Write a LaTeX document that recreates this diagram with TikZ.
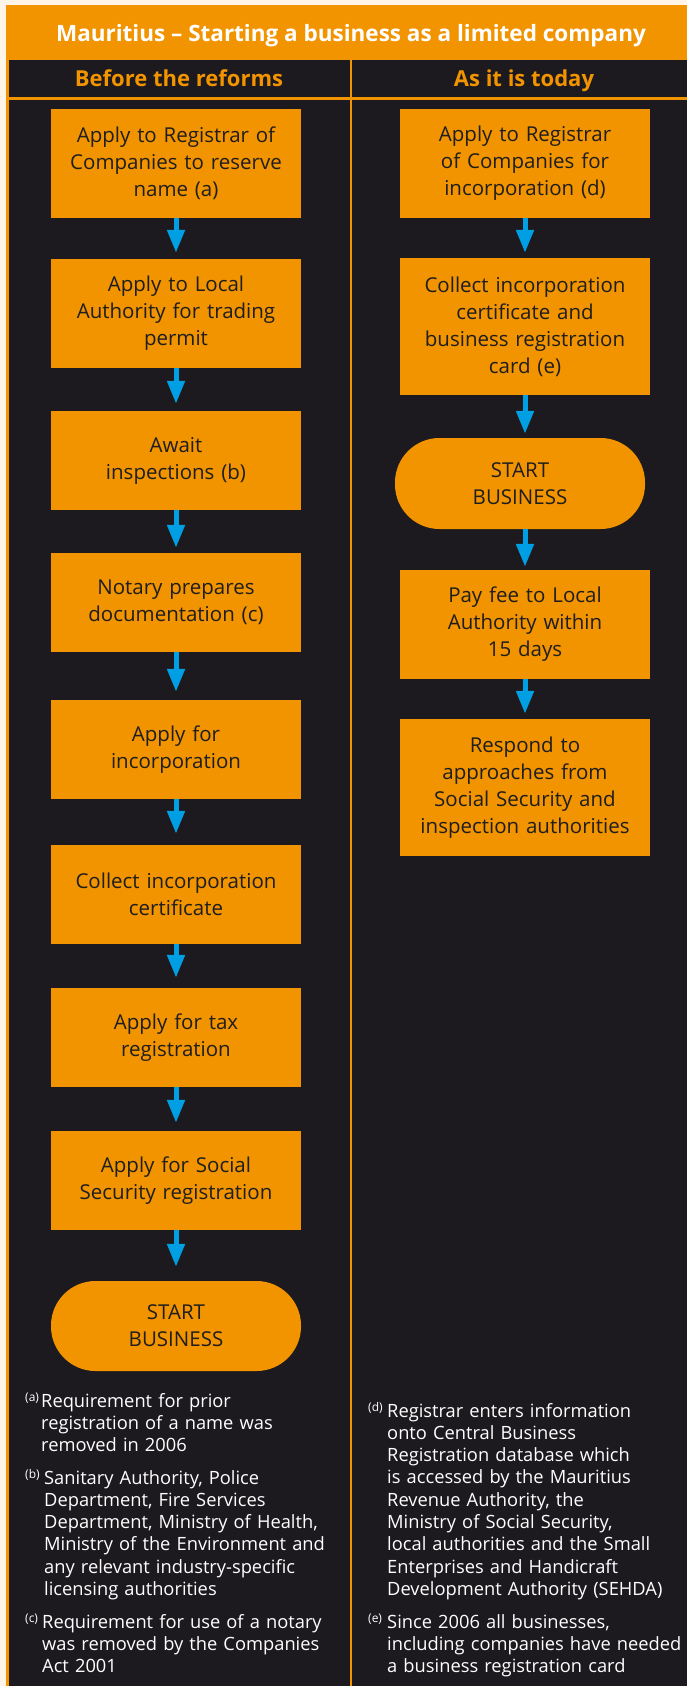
\documentclass[tikz,border=0pt]{standalone}
\usepackage{fontspec}
\setmainfont{Open Sans}
\usetikzlibrary{arrows.meta}
\definecolor{orng}{HTML}{F29300}
\definecolor{darkbg}{HTML}{1C1A1E}
\definecolor{cream}{HTML}{FEF4E8}
\definecolor{arrblue}{HTML}{009FE3}
\definecolor{boxtext}{HTML}{1E1E1E}
\begin{document}
\begin{tikzpicture}[x=1pt,y=-1pt,
 stepbox/.style={fill=orng, text=boxtext, minimum width=250pt, text width=244pt, align=center, inner sep=0pt, font=\fontsize{20.5}{27}\selectfont},
 startbox/.style={stepbox, rounded corners=44.5pt},
 flow/.style={arrblue, line width=5pt, -{Triangle[width=17pt,length=23pt]}},
 note/.style={text=white, anchor=base west, inner sep=0pt, align=left, text width=300pt, font=\fontsize{18.3}{22.3}\selectfont},
 notelbl/.style={text=white, anchor=base west, inner sep=0pt, font=\fontsize{12}{12}\selectfont},
 head/.style={text=orng, anchor=base, inner sep=0pt, font=\bfseries\fontsize{22}{22}\selectfont},
]
\useasboundingbox (0,0) rectangle (687,1686);
\fill[cream] (0,0) rectangle (687,1686);
\fill[orng] (6,5) rectangle (687,1686);
\fill[darkbg] (8.5,60) rectangle (349.5,97);
\fill[darkbg] (352,60) rectangle (687,97);
\fill[darkbg] (8.5,99.5) rectangle (349.5,1686);
\fill[darkbg] (352,99.5) rectangle (687,1686);

\node[text=white, anchor=base, inner sep=0pt, font=\bfseries\fontsize{22.5}{22.5}\selectfont] (title) at (351,42) {Mauritius – Starting a business as a limited company};
\node[head] (hleft) at (179,86) {Before the reforms};
\node[head] (hright) at (524,86) {As it is today};

% left column
\node[stepbox, minimum height=109pt] (b1) at (176,163.5) {Apply to Registrar of\\Companies to reserve\\name (a)};
\node[stepbox, minimum height=109pt] (b2) at (176,313.5) {Apply to Local\\Authority for trading\\permit};
\node[stepbox, minimum height=99pt] (b3) at (176,460.5) {Await\\inspections (b)};
\node[stepbox, minimum height=99pt] (b4) at (176,602.5) {Notary prepares\\documentation (c)};
\node[stepbox, minimum height=99pt] (b5) at (176,749.5) {Apply for\\incorporation};
\node[stepbox, minimum height=99pt] (b6) at (176,894.5) {Collect incorporation\\certificate};
\node[stepbox, minimum height=99pt] (b7) at (176,1037.5) {Apply for tax\\registration};
\node[stepbox, minimum height=99pt] (b8) at (176,1180.5) {Apply for Social\\Security registration};
\node[startbox, minimum height=90pt] (b9) at (176,1326) {START\\BUSINESS};

% right column
\node[stepbox, minimum height=109pt] (r1) at (525,163.5) {Apply to Registrar\\of Companies for\\incorporation (d)};
\node[stepbox, minimum height=137pt] (r2) at (525,326.5) {Collect incorporation\\certificate and\\business registration\\card (e)};
\node[startbox, minimum height=91pt] (r3) at (520,483.5) {START\\BUSINESS};
\node[stepbox, minimum height=109pt] (r4) at (525,624.5) {Pay fee to Local\\Authority within\\15 days};
\node[stepbox, minimum height=137pt] (r5) at (525,787.5) {Respond to\\approaches from\\Social Security and\\inspection authorities};

% arrows
\draw[flow, shorten >=6pt] (b1.south) -- (b2.north);
\draw[flow, shorten >=7pt] (b2.south) -- (b3.north);
\draw[flow, shorten >=5pt] (b3.south) -- (b4.north);
\draw[flow, shorten >=8pt] (b4.south) -- (b5.north);
\draw[flow, shorten >=11pt] (b5.south) -- (b6.north);
\draw[flow, shorten >=10pt] (b6.south) -- (b7.north);
\draw[flow, shorten >=8pt] (b7.south) -- (b8.north);
\draw[flow, shorten >=14pt] (b8.south) -- (b9.north);
\draw[flow, shorten >=5pt] (r1.south) -- (r2.north);
\draw[flow, shorten >=4pt] (r2.south) -- (r2.south |- r3.north);
\draw[flow, shorten >=3pt] (r4.north |- r3.south) -- (r4.north);
\draw[flow, shorten >=5pt] (r4.south) -- (r5.north);

% footnotes left
\node[notelbl] (la) at (25,1401) {(a)};
\node[note] (na) at (41,1407) {Requirement for prior\\registration of a name was\\removed in 2006};
\node[notelbl] (lb) at (25,1478) {(b)};
\node[note] (nb) at (44,1484) {Sanitary Authority, Police\\Department, Fire Services\\Department, Ministry of Health,\\Ministry of the Environment and\\any relevant industry-specific\\licensing authorities};
\node[notelbl] (lc) at (25,1622) {(c)};
\node[note] (nc) at (42,1628) {Requirement for use of a notary\\was removed by the Companies\\Act 2001};
% footnotes right
\node[notelbl] (ld) at (368,1411) {(d)};
\node[note] (nd) at (387,1417) {Registrar enters information\\onto Central Business\\Registration database which\\is accessed by the Mauritius\\Revenue Authority, the\\Ministry of Social Security,\\local authorities and the Small\\Enterprises and Handicraft\\Development Authority (SEHDA)};
\node[notelbl] (le) at (368,1622) {(e)};
\node[note] (ne) at (387,1628) {Since 2006 all businesses,\\including companies have needed\\a business registration card};
\end{tikzpicture}
\end{document}
